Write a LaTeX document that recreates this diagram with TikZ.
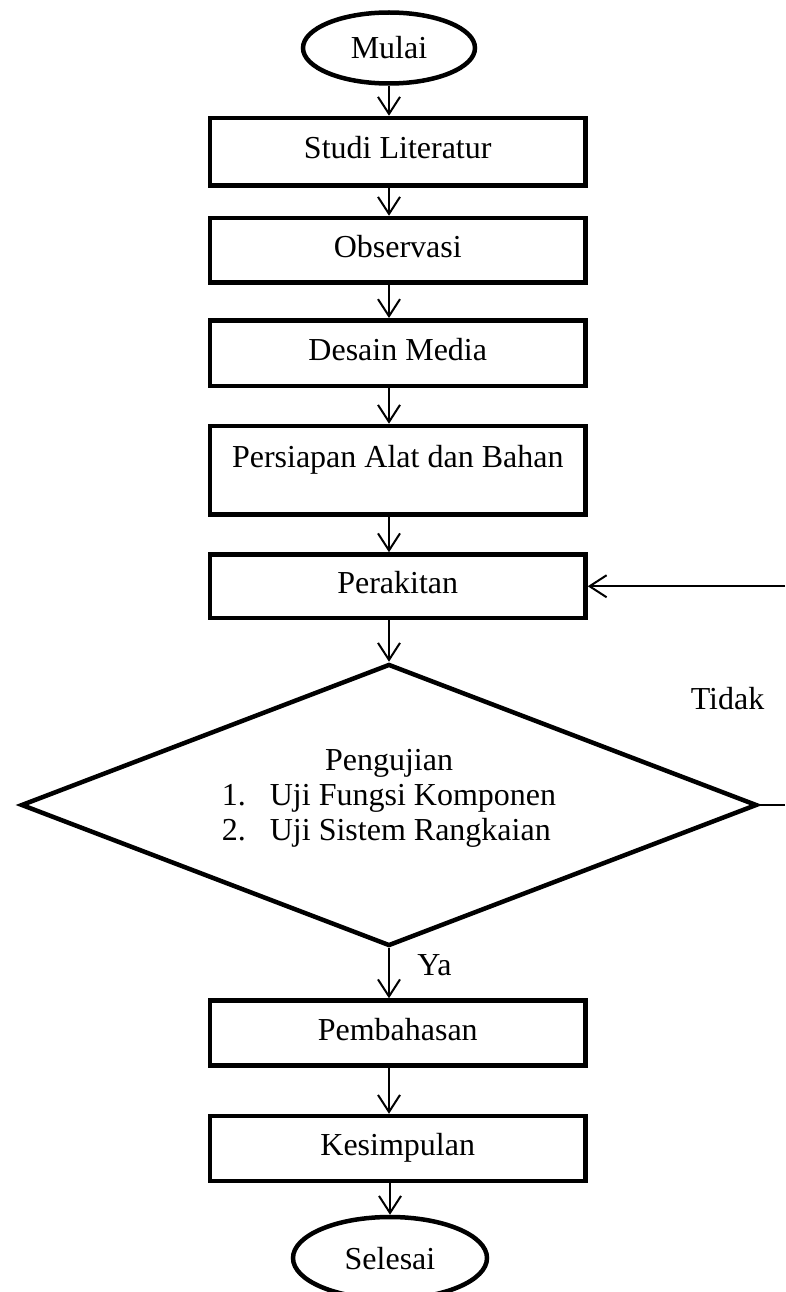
\documentclass[tikz,border=0pt]{standalone}
\usepackage{fontspec}
\setmainfont{Liberation Serif}
\usetikzlibrary{shapes.geometric,arrows.meta}
\begin{document}
\begin{tikzpicture}[x=1pt,y=-1pt,
  every node/.style={font=\fontsize{32}{35}\selectfont, inner sep=0pt},
  procbox/.style={draw, line width=4.5pt, rectangle, minimum width=375.5pt,
    text height=27pt, text depth=13pt},
  term/.style={draw, line width=4.5pt, ellipse, text height=30pt, text depth=8pt},
  arr/.style={line width=2pt, -{Straight Barb[length=17pt,width=22pt,line width=2pt]}},
  plain/.style={line width=2pt}]
\useasboundingbox (0,0) rectangle (785,1292);
% terminals
\node[term, minimum width=172pt, minimum height=71pt] (mulai) at (389,48) {Mulai};
\node[term, minimum width=194pt, minimum height=82pt] (selesai) at (390,1258) {Selesai};
% process boxes
\node[procbox, minimum height=67.5pt] (studi) at (397.75,151.75) {Studi Literatur};
\node[procbox, minimum height=64.5pt] (obs) at (397.75,250.25) {Observasi};
\node[procbox, minimum height=65.5pt] (desain) at (397.75,353) {Desain Media};
\node[procbox, minimum height=88.5pt, text height=24pt, text depth=30.5pt] (persiapan) at (397.75,470.25) {Persiapan Alat dan Bahan};
\node[procbox, minimum height=63.5pt] (perak) at (397.75,586.25) {Perakitan};
\node[procbox, minimum height=65pt] (pemb) at (397.75,1033) {Pembahasan};
\node[procbox, minimum height=65pt] (kes) at (397.75,1148.5) {Kesimpulan};
% decision
\node[draw, diamond, line width=4.5pt, minimum width=736pt, minimum height=282pt] (uji) at (389,805) {};
\node[anchor=base] (ujitext) at (389,770) {%
  \begin{tabular}[t]{@{}l@{}l@{}}
  \multicolumn{2}{c}{Pengujian}\\
  \makebox[48pt][l]{1.} & Uji Fungsi Komponen\\
  \makebox[48pt][l]{2.} & Uji Sistem Rangkaian
  \end{tabular}};
% labels
\node[anchor=base] (tidak) at (727.5,709) {Tidak};
\node[anchor=base] (ya) at (434.5,975) {Ya};
% free ends at the right edge
\coordinate (backR) at (785,586.25);
\coordinate (outR) at (785,805);
% connectors
\draw[arr] (mulai.south) -- (studi.north -| mulai.south);
\draw[arr] (studi.south -| mulai.south) -- (obs.north -| mulai.south);
\draw[arr] (obs.south -| mulai.south) -- (desain.north -| mulai.south);
\draw[arr] (desain.south -| mulai.south) -- (persiapan.north -| mulai.south);
\draw[arr] (persiapan.south -| mulai.south) -- (perak.north -| mulai.south);
\draw[arr] (perak.south -| uji.north) -- (uji.north);
\draw[arr] (uji.south) -- (pemb.north -| uji.south);
\draw[arr] (pemb.south -| uji.south) -- (kes.north -| uji.south);
\draw[arr] (kes.south -| selesai.north) -- (selesai.north);
\draw[plain] (uji.east) -- (outR);
\draw[arr] (backR) -- (perak.east);
\end{tikzpicture}
\end{document}
